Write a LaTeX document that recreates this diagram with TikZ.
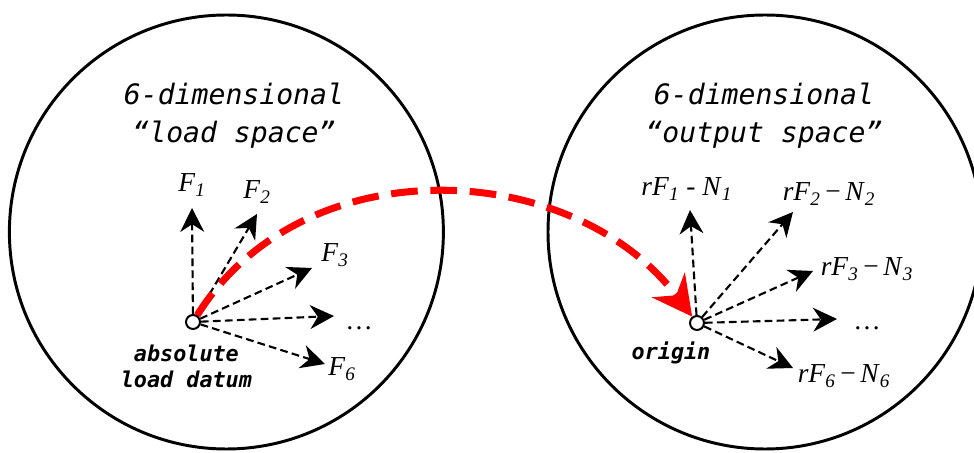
\documentclass[tikz,border=0pt]{standalone}
\usepackage{fontspec}
\setmainfont{Liberation Serif}
\newfontfamily\codefont{DejaVu Sans Mono}
\usetikzlibrary{arrows.meta}
\newcommand{\idx}[2]{\textit{#1}\textsubscript{\textit{#2}}}

\begin{document}
\begin{tikzpicture}[
    space/.style={draw, circle, line width=2.1pt, minimum size=10.85cm, inner sep=0pt},
    title/.style={font=\codefont\itshape\fontsize{20}{27}\selectfont, align=center},
    tag/.style={font=\codefont\bfseries\itshape\fontsize{15.5}{19}\selectfont, align=center},
    dot/.style={draw, circle, fill=white, line width=1.4pt, minimum size=0.35cm, inner sep=0pt},
    lbl/.style={font=\fontsize{19.5}{22}\selectfont, inner sep=1pt},
    vec/.style={dash pattern=on 5.5pt off 3pt, line width=1.5pt, -{Stealth[length=17pt, width=17pt, inset=5.5pt]}},
    map/.style={draw=red, line width=5pt, dash pattern=on 19pt off 9pt, -{Stealth[length=28pt, width=29pt, inset=9pt]}}
  ]
    \useasboundingbox (0,0) rectangle (24.35,-11.325);

    % Spaces
    \node[space] (loadsp) at (5.66,-5.8) {};
    \node[space] (outsp) at (19.125,-5.8) {};
    \node[title] (loadtitle) at (5.85,-2.9) {6-dimensional\\“load space”};
    \node[title] (outtitle) at (19.1,-2.9) {6-dimensional\\“output space”};

    % Reference points
    \node[dot] (datum) at (4.825,-8.05) {};
    \node[dot] (origin) at (17.425,-8.075) {};
    \node[tag] (datumtag) at (4.66,-9.16) {absolute\\load datum};
    \node[tag] (origintag) at (16.775,-8.825) {origin};

    % Load vectors
    \coordinate (f1) at (4.8,-5.2);
    \coordinate (f2) at (6.425,-5.35);
    \coordinate (f3) at (7.8,-6.7);
    \coordinate (f4) at (8.35,-7.9);
    \coordinate (f6) at (8.125,-9.1);
    \foreach \t in {f1,f2,f3,f4,f6}
      \draw[vec] (datum) -- (\t);
    \node[lbl] (lf1) at (4.8,-4.625) {\idx{F}{1}};
    \node[lbl] (lf2) at (6.425,-4.8) {\idx{F}{2}};
    \node[lbl] (lf3) at (8.375,-6.375) {\idx{F}{3}};
    \node[lbl] (lf4) at (8.975,-8.2) {\dots};
    \node[lbl] (lf6) at (8.55,-9.225) {\idx{F}{6}};

    % Output vectors
    \coordinate (n1) at (17.25,-5.25);
    \coordinate (n2) at (19.825,-5.3);
    \coordinate (n3) at (20.325,-6.775);
    \coordinate (n4) at (20.925,-7.975);
    \coordinate (n6) at (19.825,-9.2);
    \foreach \t in {n1,n2,n3,n4,n6}
      \draw[vec] (origin) -- (\t);
    \node[lbl] (ln1) at (17.17,-4.725) {\idx{rF}{1} - \idx{N}{1}};
    \node[lbl] (ln2) at (20.725,-4.85) {\idx{rF}{2}\,−\,\idx{N}{2}};
    \node[lbl] (ln3) at (21.675,-6.725) {\idx{rF}{3}\,−\,\idx{N}{3}};
    \node[lbl] (ln4) at (21.675,-8.2) {\dots};
    \node[lbl] (ln6) at (21.1,-9.4) {\idx{rF}{6}\,−\,\idx{N}{6}};

    % Mapping
    \draw[map] (datum) to[out=58, in=127, looseness=1.03] (origin);
  \end{tikzpicture}
\end{document}
